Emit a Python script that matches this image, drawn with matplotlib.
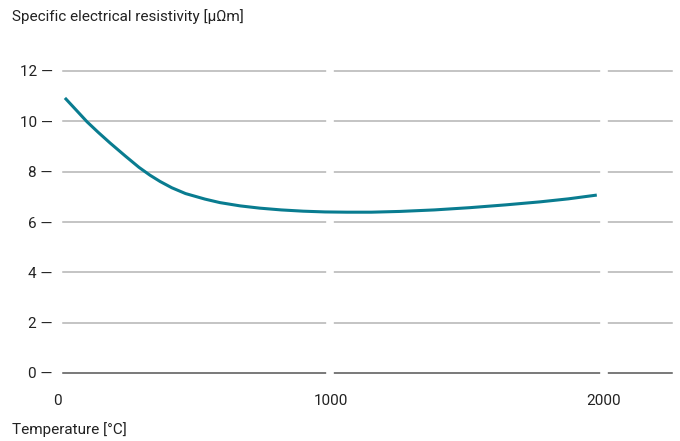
import matplotlib
matplotlib.use("Agg")
import matplotlib.pyplot as plt

# data
temperature = [29, 70, 110, 150, 194, 250, 300, 340, 377, 420, 470, 541, 596, 670,
               742, 820, 900, 980, 1060, 1150, 1254, 1380, 1510, 1640, 1766, 1870, 1974]
resistivity = [10.93, 10.45, 9.98, 9.57, 9.14, 8.62, 8.17, 7.86, 7.61, 7.36, 7.13, 6.91,
               6.77, 6.64, 6.55, 6.48, 6.43, 6.40, 6.39, 6.39, 6.42, 6.48, 6.57, 6.68,
               6.80, 6.92, 7.07]
y_ticks = [0, 2, 4, 6, 8, 10, 12]
x_ticks = [0, 1000, 2000]

plt.rcParams['font.family'] = ['Roboto', 'DejaVu Sans']
textColor = '#222222'
lineColor = '#097c90'

fig = plt.figure(figsize=(6.8, 4.41), dpi=100)
# axes start at temperature 0; the gridlines begin a few pixels to the right
ax = fig.add_axes([57 / 680, 68 / 441, 615 / 680, 302 / 441])
gridStart = 6 / 615

for v in y_ticks:
    ax.axhline(v, xmin=gridStart, color='#555555' if v == 0 else '#b4b4b4',
               lw=1.1, zorder=1, clip_on=False)
# white gaps in the gridlines at the major temperatures
for t in x_ticks[1:]:
    ax.axvline(t, ymin=-0.01, ymax=1.01, color='white', lw=5.5, zorder=2, clip_on=False)

ax.plot(temperature, resistivity, color=lineColor, lw=2.2, zorder=3,
        solid_capstyle='butt', solid_joinstyle='round')

ax.set_xlim(0, 2249)
ax.set_ylim(0, 12)
for s in ax.spines.values():
    s.set_visible(False)

ax.set_yticks(y_ticks)
ax.set_yticklabels([f'{v} \u2014' for v in y_ticks], fontsize=11, color=textColor)
ax.set_xticks(x_ticks)
ax.set_xticklabels([str(t) for t in x_ticks], fontsize=11, color=textColor)
ax.tick_params(axis='y', length=0, pad=3)
ax.tick_params(axis='x', length=0, pad=15)

fig.text(12 / 680, 1 - 17 / 441, 'Specific electrical resistivity [\u00b5\u03a9m]',
         fontsize=11, color=textColor, ha='left', va='center')
fig.text(12 / 680, 1 - 430 / 441, 'Temperature [\u00b0C]',
         fontsize=11, color=textColor, ha='left', va='center')

fig.savefig('out.png', dpi=100)
